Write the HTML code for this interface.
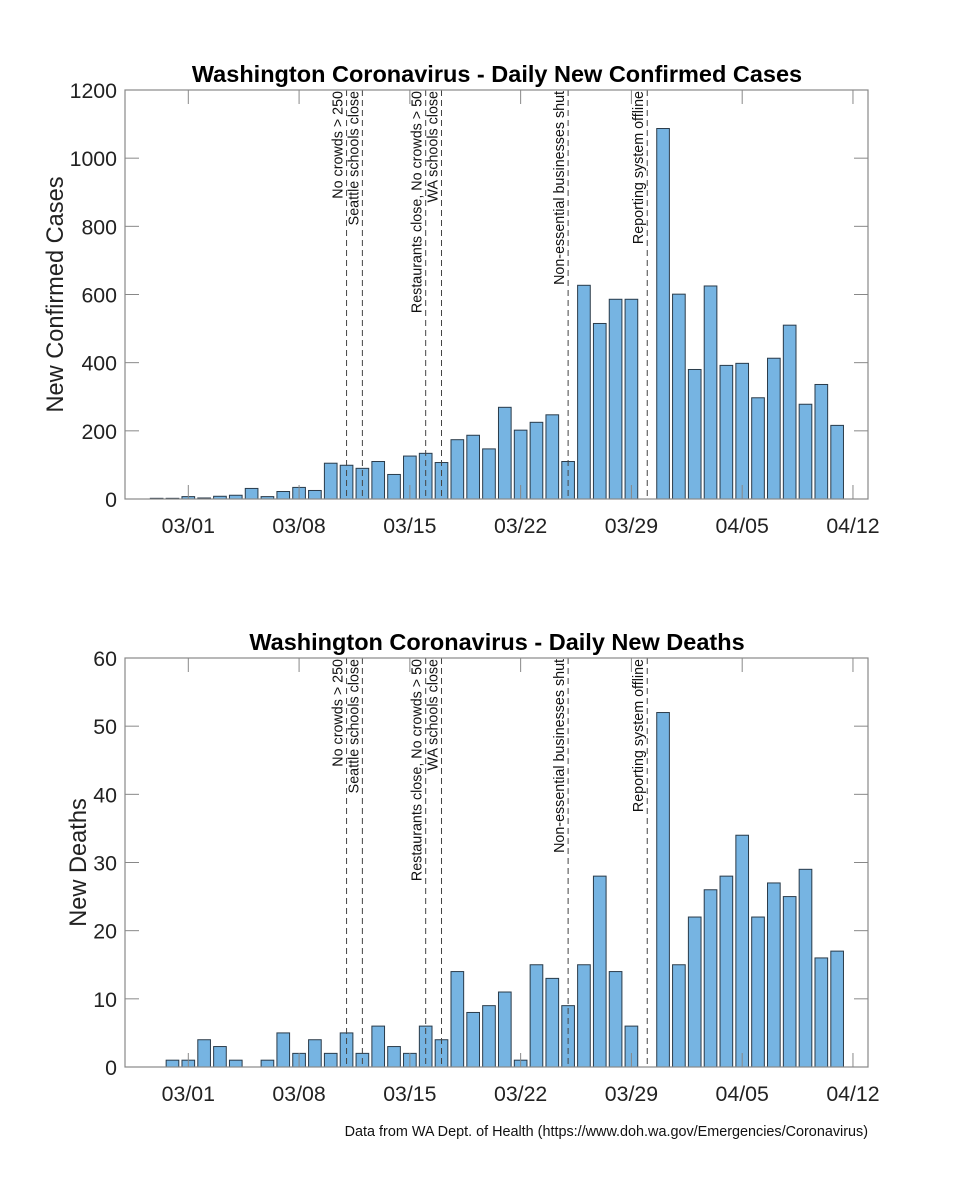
<!DOCTYPE html>
<html><head><meta charset="utf-8"><style>
html,body{margin:0;padding:0;background:#fff;}
svg{display:block;font-family:"Liberation Sans",Arial,sans-serif;}
</style></head><body>
<svg id="chart" width="960" height="1200" viewBox="0 0 960 1200"></svg>
<script>
const days = [-2,-1,0,1,2,3,4,5,6,7,8,9,10,11,12,13,14,15,16,17,18,19,20,21,22,23,24,25,26,27,28,30,31,32,33,34,35,36,37,38,39,40,41];
const cases = [2,2,7,3,8,11,31,7,22,34,25,105,99,90,110,72,126,134,107,174,187,147,269,202,225,247,110,627,515,586,586,1087,601,380,625,392,398,297,413,510,278,336,216];
const deathDays = [-1,0,1,2,3,5,6,7,8,9,10,11,12,13,14,15,16,17,18,19,20,21,22,23,24,25,26,27,28,30,31,32,33,34,35,36,37,38,39,40,41];
const deaths = [1,1,4,3,1,1,5,2,4,2,5,2,6,3,2,6,4,14,8,9,11,1,15,13,9,15,28,14,6,52,15,22,26,28,34,22,27,25,29,16,17];
const xTickDays = [0,7,14,21,28,35,42];
const xTickLabels = ["03/01","03/08","03/15","03/22","03/29","04/05","04/12"];
const caseTicks = [0,200,400,600,800,1000,1200];
const deathTicks = [0,10,20,30,40,50,60];
const eventDays = [10,11,15,16,24,29];
const eventLabels = ["No crowds > 250","Seattle schools close","Restaurants close, No crowds > 50","WA schools close","Non-essential businesses shut","Reporting system offline"];

const NS="http://www.w3.org/2000/svg";
const svg=document.getElementById('chart');
function mk(tag,attrs,parent){const e=document.createElementNS(NS,tag);for(const k in attrs)e.setAttribute(k,attrs[k]);(parent||svg).appendChild(e);return e;}
const L=125,R=868,D0=-4,D1=42.95;
const xs=d=>L+(d-D0)/(D1-D0)*(R-L);

function panel(top,bottom,ymax,yTicks,xd,vals,title,ylabel,key){
  const g=mk('g',{});
  
  
  const ys=v=>bottom-v/ymax*(bottom-top);
  const bw=0.8*(xs(1)-xs(0));
  xd.forEach((d,i)=>{
    const r=mk('rect',{x:xs(d)-bw/2,y:ys(vals[i]),width:bw,height:bottom-ys(vals[i]),fill:'#76b4e2',stroke:'#2a3b4a','stroke-width':1},g);
    
    
  });
  eventDays.forEach((d,i)=>{
    const x=xs(d);
    const ln=mk('line',{x1:x,y1:top,x2:x,y2:bottom,stroke:'#444','stroke-width':1,'stroke-dasharray':'6,4'},g);
    
    
    const t=mk('text',{x:0,y:0,transform:`translate(${x-4},${top+1}) rotate(-90)`,'text-anchor':'end','font-size':14.3,fill:'#111'},g);
    t.textContent=eventLabels[i];
    
    
  });
  const ax=mk('rect',{x:L,y:top,width:R-L,height:bottom-top,fill:'none',stroke:'#888','stroke-width':1.2},g);
  
  
  xTickDays.forEach((d,i)=>{
    const x=xs(d);
    mk('line',{x1:x,y1:bottom,x2:x,y2:bottom-14,stroke:'#888'},g);
    mk('line',{x1:x,y1:top,x2:x,y2:top+14,stroke:'#888'},g);
    const t=mk('text',{x:x,y:bottom+34,'text-anchor':'middle','font-size':21.3,fill:'#222'},g);
    t.textContent=xTickLabels[i];
    
    
  });
  yTicks.forEach(v=>{
    const y=ys(v);
    mk('line',{x1:L,y1:y,x2:L+14,y2:y,stroke:'#888'},g);
    mk('line',{x1:R,y1:y,x2:R-14,y2:y,stroke:'#888'},g);
    const t=mk('text',{x:L-8,y:y+8,'text-anchor':'end','font-size':21.3,fill:'#222'},g);
    t.textContent=v;
    
    
  });
  const tt=mk('text',{x:497,y:top-8,'text-anchor':'middle','font-size':23.5,'font-weight':'bold',fill:'#000'},g);
  tt.textContent=title;
  
  
  const yl=mk('text',{x:0,y:0,transform:`translate(${key==='cases'?63:86},${(top+bottom)/2}) rotate(-90)`,'text-anchor':'middle','font-size':23.6,fill:'#222'},g);
  yl.textContent=ylabel;
  
  
}
panel(90,499,1200,caseTicks,days,cases,'Washington Coronavirus - Daily New Confirmed Cases','New Confirmed Cases','cases');
panel(658,1067,60,deathTicks,deathDays,deaths,'Washington Coronavirus - Daily New Deaths','New Deaths','deaths');
const f=mk('text',{x:868,y:1136,'text-anchor':'end','font-size':14.4,fill:'#111'});
f.textContent='Data from WA Dept. of Health (https://www.doh.wa.gov/Emergencies/Coronavirus)';


</script>
</body></html>
